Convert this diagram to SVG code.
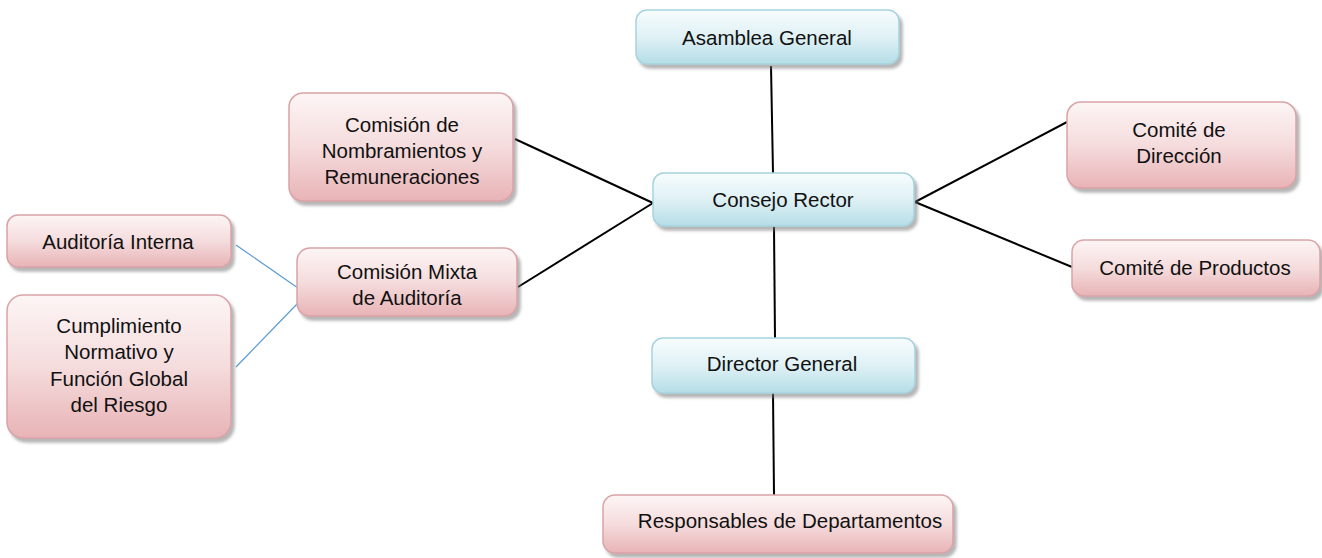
<svg xmlns="http://www.w3.org/2000/svg" width="1322" height="558" viewBox="0 0 1322 558">
<defs>
<linearGradient id="gBlue" x1="0" y1="0" x2="0" y2="1">
<stop offset="0" stop-color="#f7fcfd"/>
<stop offset="0.5" stop-color="#dff1f5"/>
<stop offset="1" stop-color="#b5dde7"/>
</linearGradient>
<linearGradient id="gPink" x1="0" y1="0" x2="0" y2="1">
<stop offset="0" stop-color="#fdf5f5"/>
<stop offset="0.5" stop-color="#f5dcdd"/>
<stop offset="1" stop-color="#e8b3b6"/>
</linearGradient>
<filter id="sh" x="-10%" y="-10%" width="130%" height="140%">
<feDropShadow dx="3" dy="4" stdDeviation="1.8" flood-color="#7a7a7a" flood-opacity="0.55"/>
</filter>
</defs>
<style>
.blue{fill:url(#gBlue);stroke:#a6d3de;stroke-width:1.5;filter:url(#sh)}
.pink{fill:url(#gPink);stroke:#d9a3a6;stroke-width:1.5;filter:url(#sh)}
text{font-family:"Liberation Sans",Arial,sans-serif;font-size:20.5px;fill:#111;text-anchor:middle}
.k{stroke:#000;stroke-width:2;fill:none}
.b{stroke:#5b9bd5;stroke-width:1.2;fill:none}
</style>
<g id="connectors">
<line class="k" x1="771" y1="66" x2="773" y2="173"/>
<line class="k" x1="774" y1="227" x2="775" y2="338"/>
<line class="k" x1="773" y1="393" x2="774" y2="495"/>
<line class="k" x1="515" y1="139" x2="653" y2="203"/>
<line class="k" x1="518" y1="287" x2="653" y2="203"/>
<line class="k" x1="915" y1="202" x2="1067" y2="122"/>
<line class="k" x1="915" y1="202" x2="1072" y2="267"/>
<line class="b" x1="236" y1="245" x2="298" y2="288"/>
<line class="b" x1="236" y1="367" x2="298" y2="303"/>
</g>
<g id="asamblea">
<rect class="blue" x="636" y="10" width="263" height="54" rx="11"/>
<text x="767" y="45">Asamblea General</text>
</g>
<g id="consejo">
<rect class="blue" x="653" y="173" width="261" height="53" rx="11"/>
<text x="783" y="207">Consejo Rector</text>
</g>
<g id="director">
<rect class="blue" x="652" y="338" width="263" height="55" rx="11"/>
<text x="782" y="371">Director General</text>
</g>
<g id="responsables">
<rect class="pink" x="603" y="495" width="350" height="58" rx="12"/>
<text x="790" y="528">Responsables de Departamentos</text>
</g>
<g id="nombramientos">
<rect class="pink" x="289" y="93" width="224" height="108" rx="14"/>
<text x="402" y="132">Comisión de</text>
<text x="402" y="158">Nombramientos y</text>
<text x="402" y="184">Remuneraciones</text>
</g>
<g id="mixta">
<rect class="pink" x="297" y="248" width="220" height="68" rx="13"/>
<text x="407" y="279">Comisión Mixta</text>
<text x="407" y="305">de Auditoría</text>
</g>
<g id="auditoria">
<rect class="pink" x="7" y="215" width="224" height="52" rx="11"/>
<text x="118" y="249">Auditoría Interna</text>
</g>
<g id="cumplimiento">
<rect class="pink" x="7" y="295" width="224" height="143" rx="16"/>
<text x="119" y="333">Cumplimiento</text>
<text x="119" y="359">Normativo y</text>
<text x="119" y="386">Función Global</text>
<text x="119" y="412">del Riesgo</text>
</g>
<g id="direccion">
<rect class="pink" x="1067" y="102" width="229" height="86" rx="14"/>
<text x="1179" y="137">Comité de</text>
<text x="1179" y="163">Dirección</text>
</g>
<g id="productos">
<rect class="pink" x="1072" y="240" width="248" height="56" rx="12"/>
<text x="1195" y="275">Comité de Productos</text>
</g>
</svg>
